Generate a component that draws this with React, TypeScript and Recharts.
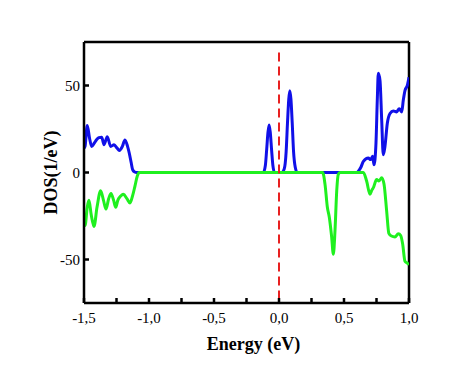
import { LineChart, Line, XAxis, YAxis, ReferenceLine } from "recharts";

// spin-up DOS (blue)
const upEnergy = [
  -1.5, -1.492, -1.475, -1.458, -1.441, -1.42, -1.402, -1.385, -1.364, -1.346, -1.321, -1.295,
  -1.269, -1.245, -1.228, -1.205, -1.185, -1.165, -1.152, -1.138, -1.126, -1.11, -1.095,
  -0.12, -0.105, -0.095, -0.085, -0.076, -0.067, -0.057, -0.047, -0.035,
  0.02, 0.04, 0.055, 0.065, 0.075, 0.083, 0.092, 0.102, 0.112, 0.125, 0.14,
  0.6, 0.61, 0.63, 0.649, 0.687, 0.705, 0.72, 0.731, 0.746, 0.756, 0.764, 0.777, 0.79, 0.802,
  0.815, 0.833, 0.854, 0.879, 0.905, 0.925, 0.944, 0.956, 0.969, 0.987, 1.0,
];
const upDos = [
  14, 15, 27, 20, 15, 17, 19, 20, 20.3, 16, 20.6, 15,
  15.9, 14, 12.7, 15, 18.7, 15, 11.2, 6, 1.7, 0.3, 0,
  0, 4, 13, 23, 27.3, 23, 13, 4, 0,
  0, 2, 12, 28, 42, 47, 42, 28, 12, 3, 0,
  0, 0.7, 3, 6.4, 8.3, 7.4, 9.3, 4.5, 16.9, 41.5, 57, 52.8, 30, 10.2,
  14.9, 28.2, 33.9, 35.4, 34.8, 36.7, 34.8, 41.5, 47.1, 50, 54.7,
];

// spin-down DOS (green)
const downEnergy = [
  -1.5, -1.492, -1.475, -1.462, -1.445, -1.423, -1.4, -1.372, -1.35, -1.331, -1.31, -1.292,
  -1.272, -1.256, -1.24, -1.228, -1.21, -1.197, -1.17, -1.146, -1.125, -1.108, -1.09, -1.075,
  0.336, 0.354, 0.372, 0.387, 0.405, 0.418, 0.431, 0.444, 0.456, 0.469,
  0.649, 0.674, 0.7, 0.715, 0.726, 0.751, 0.769, 0.79, 0.808, 0.828, 0.845, 0.865, 0.892,
  0.918, 0.936, 0.951, 0.969, 0.985, 1.0,
];
const downDos = [
  -29, -30.5, -20, -16, -24, -31, -20, -10.5, -16, -21, -15, -12,
  -16, -20, -16, -14.4, -13, -12.5, -15, -17.5, -13, -7.8, -2, 0,
  0, -6.8, -20, -25.7, -37, -47, -33, -10.6, -1.1, 0,
  0, -4.9, -12.5, -10, -8.7, -4, -4.9, -3, -6.8, -22, -35, -36.5, -37,
  -35.2, -36.2, -41, -51, -52, -53,
];

const xTicks = [-1.5, -1.25, -1.0, -0.75, -0.5, -0.25, 0, 0.25, 0.5, 0.75, 1.0];
const yTicks = [-50, 0, 50];

const upData = upEnergy.map((e, i) => ({ e, dos: upDos[i] }));
const downData = downEnergy.map((e, i) => ({ e, dos: downDos[i] }));

const font = "'Liberation Serif', 'Times New Roman', serif";

const fmtX = (v: number) => (Math.abs(v * 2 - Math.round(v * 2)) > 1e-6 ? "" : v.toFixed(1).replace(".", ","));

export default function App() {
  return (
    <div style={{ position: "fixed", left: 0, top: 0, background: "#fff" }}>
      <LineChart width={474} height={365} margin={{ top: 42, right: 65, bottom: 22, left: 0 }}>
        <XAxis
          dataKey="e"
          type="number"
          domain={[-1.5, 1]}
          ticks={xTicks}
          tickFormatter={fmtX}
          tickSize={-5}
          tickMargin={14}
          height={40}
          stroke="#000"
          strokeWidth={2.5}
          tick={{ fill: "#000", fontSize: 15, fontFamily: font }}
          allowDataOverflow
          label={{ value: "Energy (eV)", position: "insideBottom", offset: -7, dx: 7, style: { fontFamily: font, fontSize: 18, fontWeight: "bold", fill: "#000" } }}
        />
        <YAxis
          type="number"
          domain={[-75, 75]}
          ticks={yTicks}
          tickSize={-5}
          tickMargin={9}
          width={84}
          stroke="#000"
          strokeWidth={2.5}
          tick={{ fill: "#000", fontSize: 15, fontFamily: font }}
          allowDataOverflow
          label={{ value: "DOS(1/eV)", angle: -90, position: "insideLeft", offset: 51, style: { fontFamily: font, fontSize: 18, fontWeight: "bold", fill: "#000", textAnchor: "middle" } }}
        />
        <ReferenceLine y={75} stroke="#000" strokeWidth={2.5} />
        <ReferenceLine x={1} stroke="#000" strokeWidth={2.5} />
        <Line data={upData} dataKey="dos" type="monotone" stroke="#1010e8" strokeWidth={3} dot={false} isAnimationActive={false} />
        <Line data={downData} dataKey="dos" type="monotone" stroke="#1ff01f" strokeWidth={3} dot={false} isAnimationActive={false} />
        <ReferenceLine
          segment={[{ x: 0, y: 69 }, { x: 0, y: -75 }]}
          stroke="#e82020"
          strokeWidth={2}
          strokeDasharray="9 5"
        />
      </LineChart>
    </div>
  );
}
